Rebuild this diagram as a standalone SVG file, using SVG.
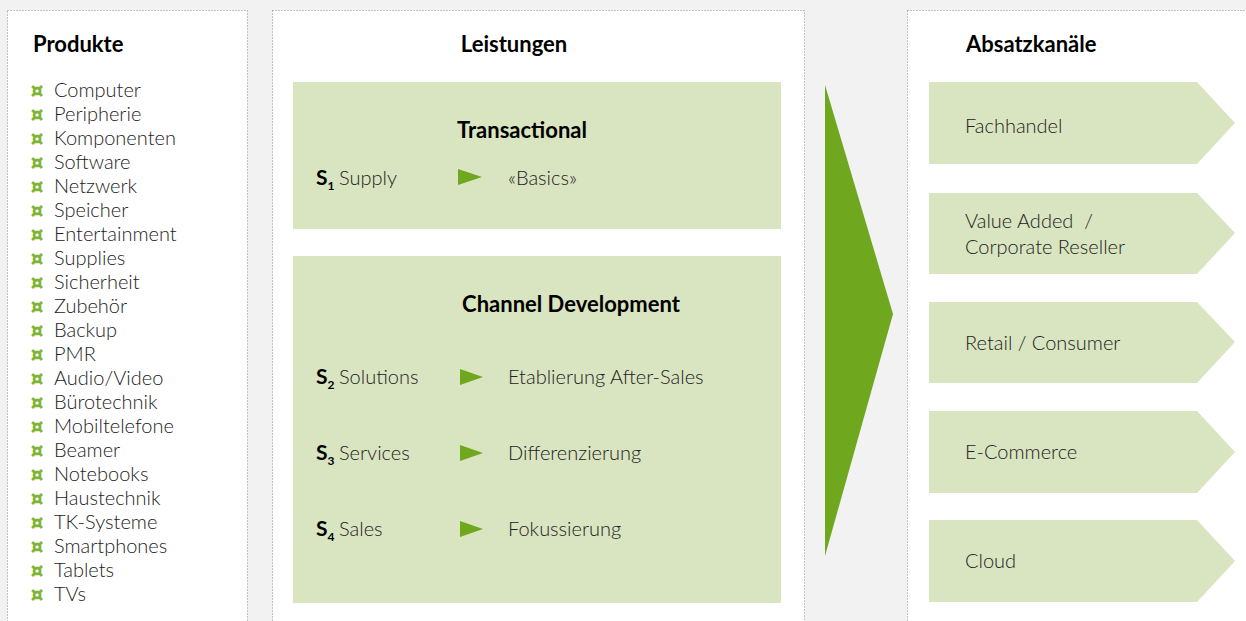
<svg xmlns="http://www.w3.org/2000/svg" width="1246" height="621" viewBox="0 0 1246 621">
<defs>
<style>
.panel{fill:#ffffff;stroke:#8a8a8a;stroke-width:1;stroke-dasharray:1 2}
.box{fill:#d9e4c1}
.h{font-family:"Lato","Liberation Sans",sans-serif;font-weight:bold;font-size:22px;fill:#000}
.t{font-family:"Lato","Liberation Sans",sans-serif;font-weight:300;font-size:20px;fill:#222}
.b{font-family:"DejaVu Sans",sans-serif;font-weight:bold;font-size:19px;fill:#7ab32e;stroke:#7ab32e;stroke-width:0.6}
.s{font-family:"Lato","Liberation Sans",sans-serif;font-weight:bold;font-size:21px;fill:#000}
.ss{font-size:12px}
.tri{fill:#6fa81f}
</style>
</defs>
<rect width="1246" height="621" fill="#f2f2f2"/>
<g id="produkte">
<rect class="panel" x="7.5" y="10.5" width="240" height="640"/>
<text class="h" x="33" y="52">Produkte</text>
<g class="b">
<text x="31" y="97">¤</text><text x="31" y="121">¤</text><text x="31" y="145">¤</text><text x="31" y="169">¤</text><text x="31" y="193">¤</text><text x="31" y="217">¤</text><text x="31" y="241">¤</text><text x="31" y="265">¤</text><text x="31" y="289">¤</text><text x="31" y="313">¤</text><text x="31" y="337">¤</text><text x="31" y="361">¤</text><text x="31" y="385">¤</text><text x="31" y="409">¤</text><text x="31" y="433">¤</text><text x="31" y="457">¤</text><text x="31" y="481">¤</text><text x="31" y="505">¤</text><text x="31" y="529">¤</text><text x="31" y="553">¤</text><text x="31" y="577">¤</text><text x="31" y="601">¤</text>
</g>
<g class="t">
<text x="54" y="97">Computer</text>
<text x="54" y="121">Peripherie</text>
<text x="54" y="145">Komponenten</text>
<text x="54" y="169">Software</text>
<text x="54" y="193">Netzwerk</text>
<text x="54" y="217">Speicher</text>
<text x="54" y="241">Entertainment</text>
<text x="54" y="265">Supplies</text>
<text x="54" y="289">Sicherheit</text>
<text x="54" y="313">Zubehör</text>
<text x="54" y="337">Backup</text>
<text x="54" y="361">PMR</text>
<text x="54" y="385">Audio/Video</text>
<text x="54" y="409">Bürotechnik</text>
<text x="54" y="433">Mobiltelefone</text>
<text x="54" y="457">Beamer</text>
<text x="54" y="481">Notebooks</text>
<text x="54" y="505">Haustechnik</text>
<text x="54" y="529">TK-Systeme</text>
<text x="54" y="553">Smartphones</text>
<text x="54" y="577">Tablets</text>
<text x="54" y="601">TVs</text>
</g>
</g>
<g id="leistungen">
<rect class="panel" x="272.5" y="10.5" width="532" height="640"/>
<text class="h" x="514" y="52" text-anchor="middle">Leistungen</text>
</g>
<g id="transactional">
<rect class="box" x="293" y="82" width="488" height="147"/>
<text class="h" x="522" y="138" text-anchor="middle">Transactional</text>
<text class="s" x="316" y="185">S<tspan class="ss" dy="5">1</tspan></text>
<text class="t" x="339" y="185">Supply</text>
<polygon class="tri" points="458,169 482,177 458,185"/>
<text class="t" x="508" y="185">«Basics»</text>
</g>
<g id="channel">
<rect class="box" x="293" y="256" width="488" height="347"/>
<text class="h" x="571" y="312" text-anchor="middle">Channel Development</text>
<text class="s" x="316" y="384">S<tspan class="ss" dy="5">2</tspan></text>
<text class="t" x="339" y="384">Solutions</text>
<polygon class="tri" points="460,369 483,377 460,385"/>
<text class="t" x="508" y="384">Etablierung After-Sales</text>
<text class="s" x="316" y="460">S<tspan class="ss" dy="5">3</tspan></text>
<text class="t" x="339" y="460">Services</text>
<polygon class="tri" points="460,445 483,453 460,461"/>
<text class="t" x="508" y="460">Differenzierung</text>
<text class="s" x="316" y="536">S<tspan class="ss" dy="5">4</tspan></text>
<text class="t" x="339" y="536">Sales</text>
<polygon class="tri" points="460,521 483,529 460,537"/>
<text class="t" x="508" y="536">Fokussierung</text>
</g>
<g id="connectors">
<polygon class="tri" points="825,85 893,314 825,556"/>
</g>
<g id="absatzkanaele">
<rect class="panel" x="907.5" y="10.5" width="400" height="640"/>
<text class="h" x="966" y="52">Absatzkanäle</text>
</g>
<g id="fachhandel">
<polygon class="box" points="929,82 1197,82 1235,123 1197,164 929,164"/>
<text class="t" x="965" y="133">Fachhandel</text>
</g>
<g id="valueadded">
<polygon class="box" points="929,193 1197,193 1235,233 1197,274 929,274"/>
<text class="t" x="965" y="228">Value Added&#160;&#160;/</text>
<text class="t" x="965" y="254">Corporate Reseller</text>
</g>
<g id="retail">
<polygon class="box" points="929,302 1197,302 1235,342 1197,383 929,383"/>
<text class="t" x="965" y="350">Retail / Consumer</text>
</g>
<g id="ecommerce">
<polygon class="box" points="929,411 1197,411 1235,452 1197,493 929,493"/>
<text class="t" x="965" y="459">E-Commerce</text>
</g>
<g id="cloud">
<polygon class="box" points="929,520 1197,520 1235,561 1197,602 929,602"/>
<text class="t" x="965" y="568">Cloud</text>
</g>
</svg>
